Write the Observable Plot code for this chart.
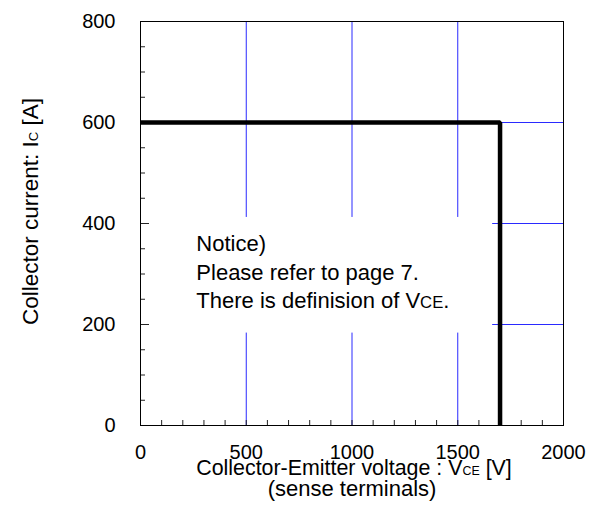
<!DOCTYPE html>
<html>
<head>
<meta charset="utf-8">
<script src="https://cdn.jsdelivr.net/npm/d3@7"></script>
<script src="https://cdn.jsdelivr.net/npm/@observablehq/plot@0.6"></script>
<style>
  html, body { margin: 0; padding: 0; background: #fff; }
  #chart svg { font-family: "Liberation Sans", Arial, sans-serif; display: block; }
</style>
</head>
<body>
<div id="chart"></div>
<script>
// Reverse-bias safe operating area: rectangular limit at 600 A up to 1700 V
const soaVoltage = [0, 1700, 1700];   // V
const soaCurrent = [600, 600, 0];     // A

// Axis ticks
const xTickValues = [0, 500, 1000, 1500, 2000];
const yTickValues = [0, 200, 400, 600, 800];
const xMinorTicks = d3.range(0, 2001, 100);
const yMinorTicks = d3.range(0, 801, 50);
const yMajorTicks = [200, 400, 600];
const xGrid = [500, 1000, 1500];
const yGrid = [200, 400, 600];

// Texts ("_XX" = small subscript, "~XX" = small caps)
const xTitle = ["Collector-Emitter voltage : V_CE [V]", "(sense terminals)"];
const yTitle = "Collector current: I_C [A]";
const noticeText = "Notice)\nPlease refer to page 7.\nThere is definision of V~CE.";

const soa = soaVoltage.map((v, i) => ({v, i: soaCurrent[i]}));

const W = 591, H = 518;
const mL = 140, mR = 28, mT = 21, mB = 93;
const plotW = W - mL - mR, plotH = H - mT - mB;
const gridBlue = "#2a2aff";

const chart = Plot.plot({
  width: W,
  height: H,
  marginLeft: mL,
  marginRight: mR,
  marginTop: mT,
  marginBottom: mB,
  x: {domain: [0, 2000], axis: null},
  y: {domain: [0, 800], axis: null},
  style: {fontFamily: '"Liberation Sans", Arial, sans-serif', color: "#000"},
  marks: [
    // blue grid
    Plot.ruleX(xGrid, {stroke: gridBlue, strokeWidth: 1}),
    Plot.ruleY(yGrid, {stroke: gridBlue, strokeWidth: 1}),
    // white backing for the notice
    Plot.rect([{x1: 0, x2: 1665, y1: 183, y2: 412}], {x1: "x1", x2: "x2", y1: "y1", y2: "y2", fill: "white"}),
    // inward tick marks
    Plot.ruleX(xMinorTicks, {insetTop: plotH - 5, stroke: "#222"}),
    Plot.ruleY(yMinorTicks, {insetRight: plotW - 5, stroke: "#222"}),
    Plot.ruleY(yMajorTicks, {insetRight: plotW - 9, stroke: "#222"}),
    Plot.frame({stroke: "#000"}),
    // tick labels
    Plot.axisX(xTickValues, {tickSize: 0, tickPadding: 19, fontSize: 20, label: null, fill: "#000", tickFormat: d => String(d)}),
    Plot.axisY(yTickValues, {tickSize: 0, tickPadding: 25, fontSize: 20, label: null, fill: "#000", tickFormat: d => String(d)}),
    // axis titles
    Plot.text([xTitle[0]], {frameAnchor: "bottom", textAnchor: "middle", dx: 2, dy: 43, lineAnchor: "middle", fontSize: 21.4, fill: "#000"}),
    Plot.text([xTitle[1]], {frameAnchor: "bottom", textAnchor: "middle", dx: 0, dy: 63, lineAnchor: "middle", fontSize: 22, fill: "#000"}),
    Plot.text([yTitle], {frameAnchor: "left", textAnchor: "middle", rotate: -90, dx: -110, dy: -12, lineAnchor: "middle", fontSize: 22.5, fill: "#000"}),
    // notice
    Plot.text([noticeText], {x: 264, y: 307, textAnchor: "start", lineAnchor: "middle", lineHeight: 1.3, fontSize: 22, fill: "#000"}),
    // SOA boundary
    Plot.line(soa, {x: "v", y: "i", stroke: "#000", strokeWidth: 4.5, strokeLinejoin: "miter", strokeLinecap: "butt"})
  ]
});

// Turn "_XX" / "~XX" markers into smaller tspans
function applySubscripts(svg) {
  const ns = "http://www.w3.org/2000/svg";
  svg.querySelectorAll("text, tspan").forEach(el => {
    if (el.children.length) return;
    const s = el.textContent;
    const m = s.match(/^(.*?)([_~])([A-Z]+)(.*)$/);
    if (!m) return;
    el.textContent = "";
    const a = document.createElementNS(ns, "tspan");
    a.textContent = m[1];
    const b = document.createElementNS(ns, "tspan");
    b.textContent = m[3];
    b.setAttribute("font-size", m[2] === "_" ? "0.58em" : "0.76em");
    const c = document.createElementNS(ns, "tspan");
    c.textContent = m[4];
    el.append(a, b, c);
  });
}
applySubscripts(chart);

document.getElementById("chart").append(chart);
</script>
</body>
</html>
